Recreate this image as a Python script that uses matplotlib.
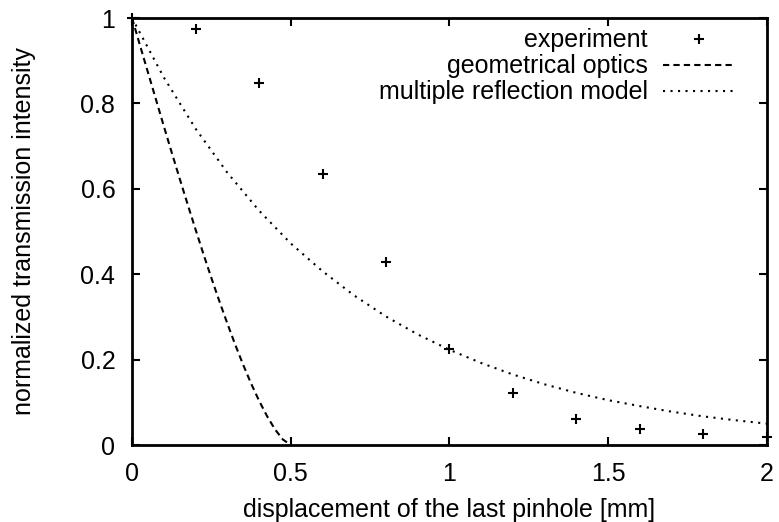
import matplotlib.pyplot as plt

plt.rcParams['font.family'] = ['Liberation Sans', 'DejaVu Sans']

# measured transmission vs. pinhole displacement
exp_x = [0.0, 0.2, 0.4, 0.6, 0.8, 1.0, 1.2, 1.4, 1.6, 1.8, 2.0]
exp_y = [1.0, 0.974, 0.848, 0.635, 0.429, 0.225, 0.122, 0.061, 0.037, 0.026, 0.019]

# geometrical optics (overlap of the pinhole apertures)
geo_x = [0.0, 0.025, 0.05, 0.075, 0.1, 0.125, 0.15, 0.175, 0.2, 0.225, 0.25,
         0.275, 0.3, 0.325, 0.35, 0.375, 0.4, 0.425, 0.45, 0.475, 0.5]
geo_y = [1.0, 0.936, 0.873, 0.810, 0.747, 0.685, 0.624, 0.564, 0.505, 0.447, 0.391,
         0.337, 0.285, 0.235, 0.188, 0.144, 0.104, 0.068, 0.037, 0.013, 0.0]

# multiple reflection model
mr_x = [0.0, 0.1, 0.2, 0.3, 0.4, 0.5, 0.6, 0.7, 0.8, 0.9, 1.0,
        1.1, 1.2, 1.3, 1.4, 1.5, 1.6, 1.7, 1.8, 1.9, 2.0]
mr_y = [1.0, 0.861, 0.741, 0.638, 0.549, 0.472, 0.407, 0.350, 0.301, 0.259, 0.223,
        0.192, 0.165, 0.142, 0.122, 0.105, 0.091, 0.078, 0.067, 0.058, 0.050]

fs = 18

fig = plt.figure(figsize=(7.79, 5.22), dpi=100)
ax = fig.add_axes([0.1695, 0.1475, 0.815, 0.818])

ax.plot(exp_x, exp_y, linestyle='none', marker='+', color='black',
        markersize=6.5, markeredgewidth=1.5, label='experiment', clip_on=False)
ax.plot(geo_x, geo_y, color='black', linewidth=1.5, linestyle=(0, (3, 2)),
        label='geometrical optics')
ax.plot(mr_x, mr_y, color='black', linewidth=1.5, linestyle=(0, (1, 2.6)),
        label='multiple reflection model')

ax.set_xlim(0, 2)
ax.set_ylim(0, 1)
ax.set_xticks([0, 0.5, 1, 1.5, 2])
ax.set_xticklabels(['0', '0.5', '1', '1.5', '2'])
ax.set_yticks([0, 0.2, 0.4, 0.6, 0.8, 1])
ax.set_yticklabels(['0', '0.2', '0.4', '0.6', '0.8', '1'])
ax.tick_params(direction='in', length=6, width=1.5, top=True, right=True,
               labelsize=fs, pad=12)
for s in ax.spines.values():
    s.set_linewidth(2)

ax.set_xlabel('displacement of the last pinhole [mm]', fontsize=fs, labelpad=9)
ax.set_ylabel('normalized transmission intensity', fontsize=fs, labelpad=32)

ax.legend(loc='upper right', bbox_to_anchor=(0.95, 0.976), frameon=False,
          markerfirst=False, fontsize=fs, handlelength=2.9, handletextpad=0.6,
          labelspacing=0.08, borderpad=0.0, borderaxespad=0.0)

fig.savefig('out.png', dpi=100)
